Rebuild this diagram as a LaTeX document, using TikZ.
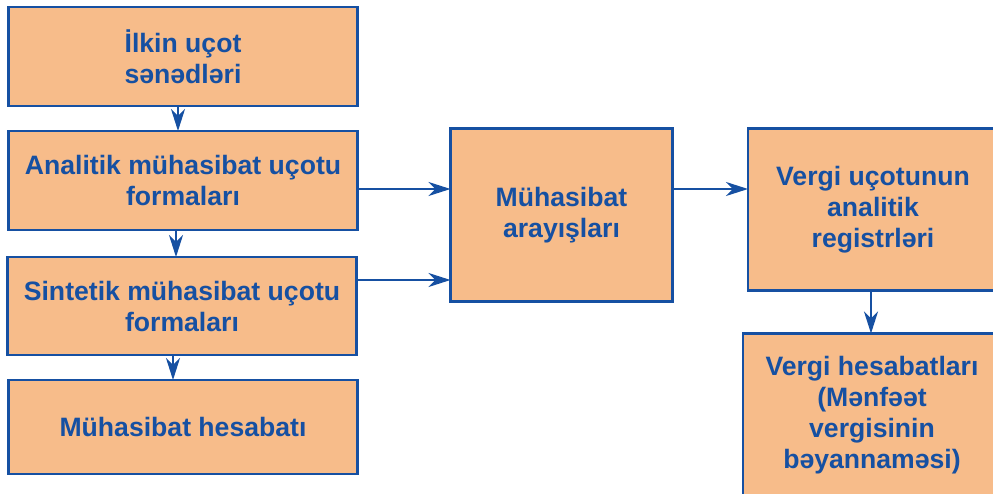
\documentclass[tikz,border=0pt]{standalone}
\usepackage{fontspec}
\setmainfont{Liberation Sans}
\usetikzlibrary{arrows.meta}
\definecolor{boxfill}{RGB}{247,188,138}
\definecolor{boxblue}{RGB}{22,80,162}
\begin{document}
\begin{tikzpicture}[x=1pt,y=-1pt,inner sep=0pt,outer sep=0pt,
blok/.style={draw=boxblue,fill=boxfill,rectangle,line width=2.6pt,align=center,text=boxblue,font=\fontsize{26.6}{31}\selectfont\bfseries},
arr/.style={draw=boxblue,line width=2.4pt,-{Stealth[length=22pt,width=14pt,inset=7pt]}}]
\useasboundingbox (0,0) rectangle (993,494);
\clip (0,0) rectangle (993,494);
\draw (183,56.5) node[blok,minimum width=349pt,minimum height=99pt] (ilkin) {İlkin uçot\\sənədləri};
\draw (183,180.5) node[blok,minimum width=349pt,minimum height=99pt] (analitik) {Analitik mühasibat uçotu\\formaları};
\draw (182,306) node[blok,minimum width=349pt,minimum height=98pt] (sintetik) {Sintetik mühasibat uçotu\\formaları};
\draw (183,427) node[blok,minimum width=349pt,minimum height=94pt] (hesabat) {Mühasibat hesabatı};
\draw (561.5,215) node[blok,minimum width=222pt,minimum height=173pt] (arayis) {Mühasibat\\arayışları};
\draw (873,209.5) node[blok,minimum width=250pt,minimum height=162pt] (registr) {Vergi uçotunun\\analitik\\registrləri};
\draw (872,415) node[blok,minimum width=258pt,minimum height=163pt] (vergi) {Vergi hesabatları\\(Mənfəət\\vergisinin\\bəyannaməsi)};
\draw[arr] ([xshift=-5pt]ilkin.south) -- ([xshift=-5pt]analitik.north);
\draw[arr] ([xshift=-7pt]analitik.south) -- ([xshift=-7pt]analitik.south |- sintetik.north);
\draw[arr] ([xshift=-9pt]sintetik.south) -- ([xshift=-9pt]sintetik.south |- hesabat.north);
\draw[arr] ([yshift=-8.5pt]analitik.east) -- ([yshift=-8.5pt]analitik.east -| arayis.west);
\draw[arr] ([yshift=26pt]sintetik.east) -- ([yshift=26pt]sintetik.east -| arayis.west);
\draw[arr] ([yshift=26pt]arayis.east) -- ([yshift=26pt]arayis.east -| registr.west);
\draw[arr] ([xshift=-2pt]registr.south) -- ([xshift=-2pt]registr.south |- vergi.north);
\end{tikzpicture}
\end{document}
